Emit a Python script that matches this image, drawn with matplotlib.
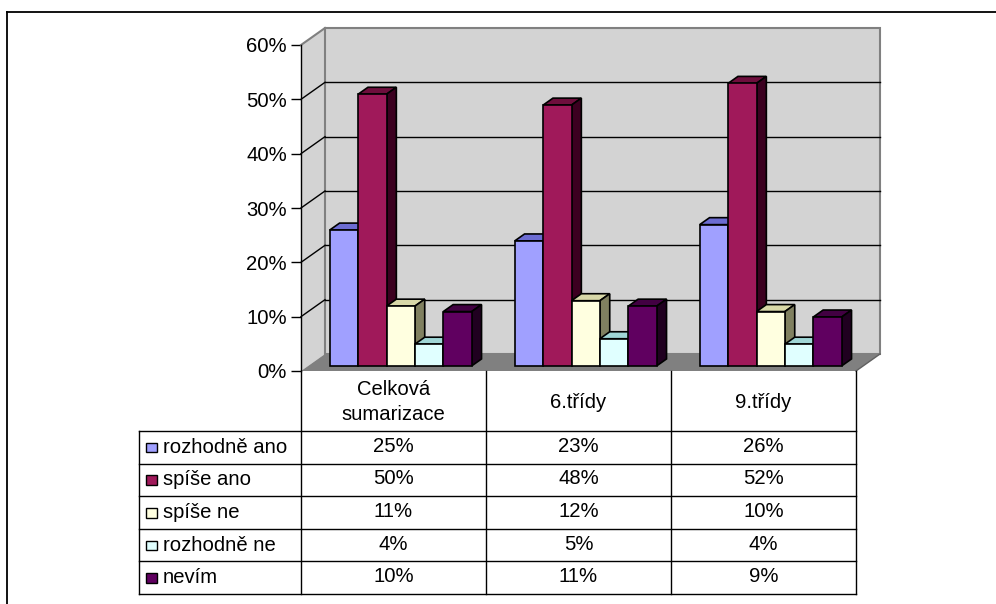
import matplotlib
matplotlib.use("Agg")
import matplotlib.pyplot as plt
from matplotlib.patches import Polygon, Rectangle
from matplotlib.lines import Line2D

plt.rcParams['font.family'] = ['Liberation Sans', 'DejaVu Sans']

# ---- data ----
categories = ["Celková\nsumarizace", "6.třídy", "9.třídy"]
series_names = ["rozhodně ano", "spíše ano", "spíše ne", "rozhodně ne", "nevím"]
rozhodne_ano = [0.25, 0.23, 0.26]
spise_ano = [0.50, 0.48, 0.52]
spise_ne = [0.11, 0.12, 0.10]
rozhodne_ne = [0.04, 0.05, 0.04]
nevim = [0.10, 0.11, 0.09]
series_values = [rozhodne_ano, spise_ano, spise_ne, rozhodne_ne, nevim]
yticks = [0, 0.1, 0.2, 0.3, 0.4, 0.5, 0.6]
ytick_labels = ["0%", "10%", "20%", "30%", "40%", "50%", "60%"]

# ---- styles ----
front_cols = ['#A0A0FF', '#A0195A', '#FFFFE0', '#E0FFFF', '#600060']
top_cols = ['#6C6CD2', '#6E0E3C', '#D8D8A8', '#A0D6D6', '#420042']
side_cols = ['#505098', '#3C0020', '#808060', '#80A8A8', '#200020']
wall_col = '#D3D3D3'
floor_col = '#808080'
FS = 14.6

W, H = 996, 604
fig = plt.figure(figsize=(W / 100, H / 100), dpi=100)
fig.patch.set_facecolor('white')

# outer frame (only left and top visible)
fig.add_artist(Line2D([7 / W, 7 / W], [0, 1 - 12 / H], color='black', lw=1.3))
fig.add_artist(Line2D([7 / W, 1], [1 - 12 / H, 1 - 12 / H], color='black', lw=1.3))

# main plotting axes (front plane)
x0p, x1p, y0p, y1p = 301, 856, 371, 45
ax = fig.add_axes([x0p / W, 1 - y0p / H, (x1p - x0p) / W, (y0p - y1p) / H])
ax.set_xlim(0, 3)
ax.set_ylim(0, 0.6)
ax.patch.set_visible(False)
for s in ['top', 'right', 'bottom']:
    ax.spines[s].set_visible(False)
ax.spines['left'].set_color('black')
ax.spines['left'].set_linewidth(1.0)
ax.spines['left'].set_zorder(10)
ax.set_xticks([])
ax.set_yticks(yticks)
ax.set_yticklabels(ytick_labels, fontsize=FS)
ax.tick_params(axis='y', length=7, width=1, pad=3, direction='out')

px_x = (x1p - x0p) / 3.0
px_y = (y0p - y1p) / 0.6
DX = 24 / px_x
DY = 17 / px_y

# walls
ax.add_patch(Polygon([(0, 0), (0, 0.6), (DX, 0.6 + DY), (DX, DY)], closed=True,
                     facecolor=wall_col, edgecolor='none', clip_on=False, zorder=1))
ax.add_patch(Rectangle((DX, DY), 3, 0.6, facecolor=wall_col, edgecolor='#808080',
                       lw=1.5, clip_on=False, zorder=1))
ax.plot([0, DX], [0.6, 0.6 + DY], color='#808080', lw=1.5, clip_on=False, zorder=2)
ax.add_patch(Polygon([(0, 0), (3, 0), (3 + DX, DY), (DX, DY)], closed=True,
                     facecolor=floor_col, edgecolor='none', clip_on=False, zorder=2))
ax.plot([3, 3 + DX], [0, DY], color='#606060', lw=1, clip_on=False, zorder=2)
for v in yticks[1:-1]:
    ax.plot([DX, 3 + DX], [v + DY, v + DY], color='black', lw=1, clip_on=False, zorder=2)
    ax.plot([0, DX], [v, v + DY], color='black', lw=1, clip_on=False, zorder=2)

# bars
n = len(series_values)
bw = 0.1535
margin = (1 - n * bw) / 2
f0, f1 = 0.30, 0.71
ddx = (f1 - f0) * DX
ddy = (f1 - f0) * DY
for i in range(len(categories)):
    for j in range(n):
        v = series_values[j][i]
        bx = i + margin + j * bw + f0 * DX
        by = f0 * DY
        z = 5 + j * 0.1
        ax.add_patch(Rectangle((bx, by), bw, v, facecolor=front_cols[j], edgecolor='black',
                               lw=1.2, clip_on=False, zorder=z + 0.02, joinstyle='miter'))
        ax.add_patch(Polygon([(bx, by + v), (bx + ddx, by + v + ddy), (bx + bw + ddx, by + v + ddy),
                              (bx + bw, by + v)], closed=True, facecolor=top_cols[j],
                             edgecolor='black', lw=1.2, clip_on=False, zorder=z))
        ax.add_patch(Polygon([(bx + bw, by), (bx + bw + ddx, by + ddy), (bx + bw + ddx, by + v + ddy),
                              (bx + bw, by + v)], closed=True, facecolor=side_cols[j],
                             edgecolor='black', lw=1.2, clip_on=False, zorder=z))

# ---- data table (overlay in pixel units) ----
tx = fig.add_axes([0, 0, 1, 1])
tx.set_xlim(0, W)
tx.set_ylim(H, 0)
tx.axis('off')
tx.patch.set_visible(False)
col_edges = [x0p + k * px_x for k in range(4)]
leg_left = 139
header_bottom = 431
row_h = 32.6
row_edges = [header_bottom + r * row_h for r in range(n + 1)]
lc = 'black'
for xe in col_edges:
    tx.plot([xe, xe], [y0p, row_edges[-1]], color=lc, lw=1)
tx.plot([leg_left, leg_left], [header_bottom, row_edges[-1]], color=lc, lw=1)
for ye in row_edges:
    tx.plot([leg_left, col_edges[-1]], [ye, ye], color=lc, lw=1)
for i, c in enumerate(categories):
    cx = (col_edges[i] + col_edges[i + 1]) / 2
    tx.text(cx, (y0p + header_bottom) / 2 + 1, c, ha='center', va='center', fontsize=FS,
            linespacing=1.45)
for j, name in enumerate(series_names):
    cy = (row_edges[j] + row_edges[j + 1]) / 2
    tx.add_patch(Rectangle((146, cy - 4.5), 11, 9.5, facecolor=front_cols[j], edgecolor='black', lw=1))
    tx.text(163, cy, name, ha='left', va='center', fontsize=FS)
    for i in range(len(categories)):
        cx = (col_edges[i] + col_edges[i + 1]) / 2
        tx.text(cx, cy - 1, f"{round(series_values[j][i] * 100):d}%", ha='center', va='center',
                fontsize=FS)

fig.savefig("out.png", dpi=100)
